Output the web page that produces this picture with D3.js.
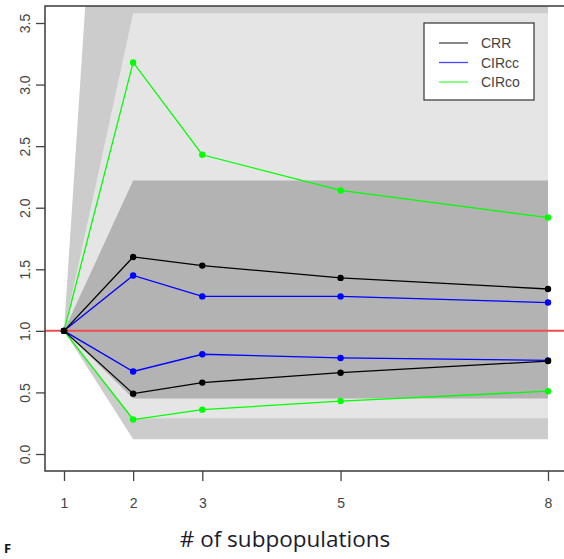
<!DOCTYPE html>
<html>
<head>
<meta charset="utf-8">
<script src="https://cdn.jsdelivr.net/npm/d3@7"></script>
<style>
body { margin: 0; background: #fff; }
svg { display: block; }
</style>
</head>
<body>
<div id="chart"></div>
<script>
// number of subpopulations on the x axis
var subpops = [1, 2, 3, 5, 8];
var xTicks = [1, 2, 3, 5, 8];
var yTicks = [0, 0.5, 1, 1.5, 2, 2.5, 3, 3.5];

// estimated ratios per series (upper and lower curves)
var crrUpper = [1, 1.60, 1.53, 1.43, 1.34];
var crrLower = [1, 0.49, 0.58, 0.66, 0.755];
var ccUpper  = [1, 1.45, 1.28, 1.28, 1.23];
var ccLower  = [1, 0.67, 0.81, 0.78, 0.76];
var coUpper  = [1, 3.18, 2.43, 2.14, 1.92];
var coLower  = [1, 0.28, 0.36, 0.43, 0.51];

// grey reference bands
var bandX = [1, 2, 8];
var outerUpper = [1, 9.6, 9.6];
var outerLower = [1, 0.12, 0.12];
var midUpper   = [1, 3.58, 3.58];
var midLower   = [1, 0.29, 0.29];
var innerUpper = [1, 2.22, 2.22];
var innerLower = [1, 0.45, 0.45];

var legendNames = ["CRR", "CIRcc", "CIRco"];
var legendColors = ["#000000", "#0000ff", "#00ff00"];

function init() {
    var w = 564, h = 559;
    var left = 45, top = 6, bottom = 471, right = 620;

    var svg = d3.select("#chart").append("svg")
        .attr("width", w)
        .attr("height", h);

    var x = d3.scaleLinear().domain([1, 8]).range([64, 548]);
    var y = d3.scaleLinear().domain([0, 3.5]).range([454, 23]);

    svg.append("clipPath").attr("id", "plotclip")
        .append("rect")
        .attr("x", left).attr("y", top)
        .attr("width", right - left).attr("height", bottom - top);

    var plot = svg.append("g").attr("clip-path", "url(#plotclip)");

    function band(upper, lower) {
        var pts = bandX.map(function(d, i){ return [x(d), y(upper[i])]; });
        for (var i = bandX.length - 1; i >= 0; i--) {
            pts.push([x(bandX[i]), y(lower[i])]);
        }
        return "M" + pts.join("L") + "Z";
    }

    plot.append("path").attr("d", band(outerUpper, outerLower)).attr("fill", "#cccccc");
    plot.append("path").attr("d", band(midUpper, midLower)).attr("fill", "#e5e5e5");
    plot.append("path").attr("d", band(innerUpper, innerLower)).attr("fill", "#b3b3b3");

    // reference line at 1
    plot.append("line")
        .attr("x1", left).attr("x2", right)
        .attr("y1", y(1)).attr("y2", y(1))
        .attr("stroke", "#f24b4b")
        .attr("stroke-width", 2);

    var line = d3.line()
        .x(function(d, i){ return x(subpops[i]); })
        .y(function(d){ return y(d); });

    var series = [
        {vals: coUpper, color: "#00ff00"},
        {vals: coLower, color: "#00ff00"},
        {vals: ccUpper, color: "#0000ff"},
        {vals: ccLower, color: "#0000ff"},
        {vals: crrUpper, color: "#000000"},
        {vals: crrLower, color: "#000000"}
    ];

    series.forEach(function(s){
        plot.append("path")
            .attr("d", line(s.vals))
            .attr("fill", "none")
            .attr("stroke", s.color)
            .attr("stroke-width", 1.3);
        plot.selectAll(null)
            .data(s.vals)
            .enter()
            .append("circle")
            .attr("cx", function(d, i){ return x(subpops[i]); })
            .attr("cy", function(d){ return y(d); })
            .attr("r", 3.2)
            .attr("fill", s.color);
    });

    // frame
    svg.append("path")
        .attr("d", "M" + right + "," + top + "H" + left + "V" + bottom + "H" + right)
        .attr("fill", "none")
        .attr("stroke", "#3a3a3a")
        .attr("stroke-width", 1.5);

    // axes
    var xAxis = svg.append("g")
        .attr("transform", "translate(0," + bottom + ")")
        .call(d3.axisBottom(x).tickValues(xTicks).tickSize(10).tickPadding(17).tickFormat(d3.format("d")));
    xAxis.select(".domain").remove();
    xAxis.selectAll("line").attr("stroke", "#444").attr("stroke-width", 1.3);
    xAxis.selectAll("text")
        .attr("fill", "#444")
        .style("font-family", "'Liberation Sans', Arial, sans-serif")
        .style("font-size", "14px");

    var yAxis = svg.append("g")
        .attr("transform", "translate(" + left + ",0)")
        .call(d3.axisLeft(y).tickValues(yTicks).tickSize(9).tickFormat(d3.format(".1f")));
    yAxis.select(".domain").remove();
    yAxis.selectAll("line").attr("stroke", "#444").attr("stroke-width", 1.3);
    yAxis.selectAll("text")
        .attr("fill", "#444")
        .attr("x", 0).attr("dy", 0)
        .attr("transform", "translate(-20,0) rotate(-90)")
        .attr("text-anchor", "middle")
        .attr("dominant-baseline", "central")
        .style("font-family", "'Liberation Sans', Arial, sans-serif")
        .style("font-size", "14px");

    // legend
    var lg = svg.append("g").attr("transform", "translate(424,23)");
    lg.append("rect")
        .attr("width", 110).attr("height", 77)
        .attr("fill", "#ffffff")
        .attr("stroke", "#333").attr("stroke-width", 1.2);
    legendNames.forEach(function(name, i){
        var yy = 20 + i * 19.5;
        lg.append("line")
            .attr("x1", 15).attr("x2", 44)
            .attr("y1", yy).attr("y2", yy)
            .attr("stroke", legendColors[i])
            .attr("stroke-opacity", 0.72)
            .attr("stroke-width", 1.3);
        lg.append("text")
            .attr("x", 57).attr("y", yy)
            .attr("dominant-baseline", "central")
            .attr("fill", "#444")
            .style("font-family", "'Liberation Sans', Arial, sans-serif")
            .style("font-size", "14px")
            .text(name);
    });

    // x axis title
    svg.append("text")
        .attr("x", 285).attr("y", 547)
        .attr("text-anchor", "middle")
        .attr("fill", "#1c1c2c")
        .style("font-family", "'Open Sans', 'Noto Sans', sans-serif")
        .style("font-size", "22.5px")
        .text("# of subpopulations");

    // panel letter at the bottom edge
    svg.append("text")
        .attr("x", 4).attr("y", 553)
        .attr("fill", "#111")
        .style("font-family", "'Open Sans', 'Noto Sans', sans-serif")
        .style("font-size", "13px")
        .style("font-weight", "bold")
        .text("F");
}

window.onload = init;
</script>
</body>
</html>
